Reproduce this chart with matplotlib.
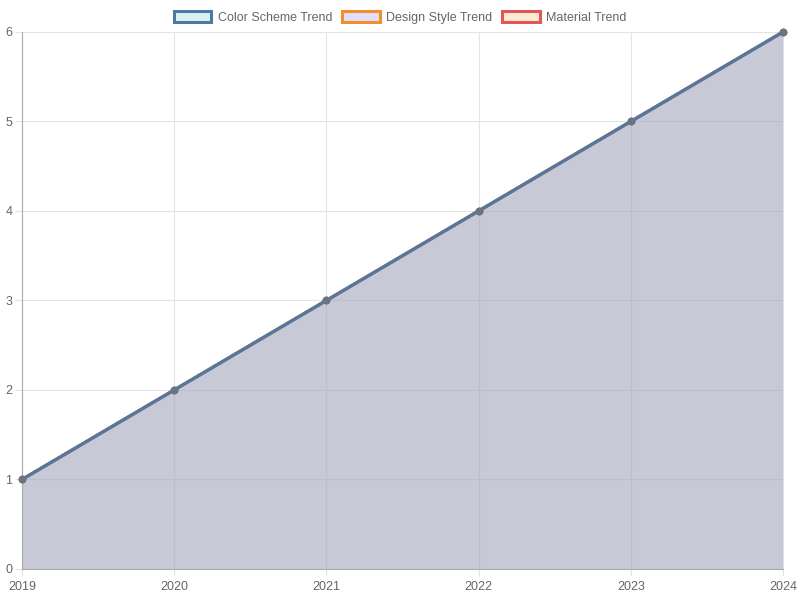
import matplotlib
matplotlib.use('Agg')
import matplotlib.pyplot as plt
from matplotlib.patches import Patch

plt.rcParams['font.family'] = ['Liberation Sans', 'DejaVu Sans']

years = [2019, 2020, 2021, 2022, 2023, 2024]
color_scheme = [1, 2, 3, 4, 5, 6]
design_style = [1, 2, 3, 4, 5, 6]
material = [1, 2, 3, 4, 5, 6]

series = [
    ('Color Scheme Trend', color_scheme, '#4e79a7', '#d9f2ef'),
    ('Design Style Trend', design_style, '#f28e2b', '#e3defa'),
    ('Material Trend', material, '#e15759', '#fdebd3'),
]

fig = plt.figure(figsize=(8, 6), dpi=100)
ax = fig.add_axes([0.0275, 0.0517, 0.95125, 0.895])

# draw last series first so the first one ends on top
for i, (name, vals, line_c, fill_c) in enumerate(reversed(series)):
    ax.fill_between(years, 0, vals, color='#a1a6bb', alpha=0.25, linewidth=0, zorder=2)
    ax.plot(years, vals, color=line_c, linewidth=2.3, zorder=3 + i, clip_on=False,
            marker='o', markersize=4.5, markerfacecolor='#6e7380', markeredgecolor='#6e7380')

ax.set_xlim(2019, 2024)
ax.set_ylim(0, 6)
ax.set_xticks(years)
ax.set_yticks(range(0, 7))
ax.grid(True, color='#e4e4e4', linewidth=0.8, zorder=0)
ax.set_axisbelow(True)
for s in ['top', 'right']:
    ax.spines[s].set_visible(False)
for s in ['left', 'bottom']:
    ax.spines[s].set_color('#aaaaaa')
ax.tick_params(colors='#666666', labelsize=9, length=5, width=0.8)
ax.tick_params(axis='x', pad=4)
ax.tick_params(axis='y', pad=2, color='#e4e4e4')
ax.tick_params(axis='x', color='#e4e4e4')

handles = [Patch(facecolor=fc, edgecolor=lc, linewidth=2.2, label=name)
           for name, vals, lc, fc in series]
fig.legend(handles=handles, loc='upper center', bbox_to_anchor=(0.5, 1.0), ncol=3,
           frameon=False, fontsize=9, labelcolor='#666666', handlelength=3.0,
           handleheight=1.0, handletextpad=0.5, columnspacing=0.8,
           borderaxespad=0.5)

plt.savefig('out.png', dpi=100)
